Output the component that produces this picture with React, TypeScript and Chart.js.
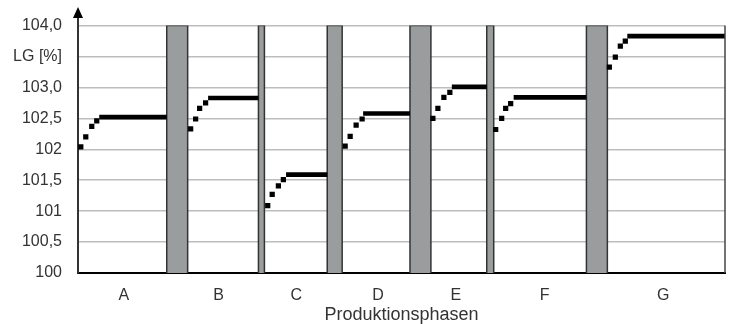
import React, { useEffect, useRef } from "react";
import { Chart, registerables } from "chart.js";

Chart.register(...registerables);

// Phase names and position of their labels on the time axis
const phases = ["A", "B", "C", "D", "E", "F", "G"];
const phaseLabelX = [46, 141, 219, 301, 379, 468, 587];

// Interruptions between phases (time span)
const breakStart = [89, 181, 250, 333, 410, 510];
const breakEnd = [110, 187, 265, 354, 417, 531];

// Learning ramp at the start of each phase
const rampX = [
  [2.8, 7.8, 13.8, 18.8],
  [113, 118, 122, 128],
  [190.3, 194.8, 201, 206],
  [268, 273, 279, 285],
  [356, 361, 367, 373],
  [419, 425, 429, 434],
  [533, 539, 544, 549],
];
const rampY = [
  [102.04, 102.2, 102.37, 102.46],
  [102.33, 102.49, 102.66, 102.75],
  [101.09, 101.27, 101.41, 101.51],
  [102.05, 102.21, 102.39, 102.49],
  [102.5, 102.66, 102.84, 102.92],
  [102.32, 102.5, 102.66, 102.74],
  [103.33, 103.49, 103.67, 103.75],
];

// Plateau after the ramp
const plateauStart = [21.3, 130.5, 208.7, 286, 375, 437, 551];
const plateauEnd = [89, 181, 250, 333, 410, 510, 649];
const plateauY = [102.52, 102.83, 101.59, 102.58, 103.01, 102.84, 103.83];

// Y axis
const yTickLabels = ["100", "100,5", "101", "101,5", "102", "102,5", "103,0", "LG [%]", "104,0"];
const xTitle = "Produktionsphasen";

const FONT = "'Liberation Sans', Arial, sans-serif";

const decorPlugin = {
  id: "decor",
  afterDraw(chart: any) {
    const { ctx, chartArea } = chart;
    const x0 = chart.scales.x.getPixelForValue(0);
    ctx.save();
    // y-axis extension + arrow
    ctx.strokeStyle = "#333";
    ctx.lineWidth = 2;
    ctx.beginPath();
    ctx.moveTo(x0, chartArea.top);
    ctx.lineTo(x0, 16);
    ctx.stroke();
    ctx.fillStyle = "#000";
    ctx.beginPath();
    ctx.moveTo(x0, 7);
    ctx.lineTo(x0 - 5, 18);
    ctx.lineTo(x0 + 5, 18);
    ctx.closePath();
    ctx.fill();
    // right border
    ctx.strokeStyle = "#444";
    ctx.lineWidth = 1.5;
    ctx.beginPath();
    ctx.moveTo(chartArea.right, chartArea.top);
    ctx.lineTo(chartArea.right, chartArea.bottom);
    ctx.stroke();
    ctx.restore();
  },
};

export default function App() {
  const ref = useRef<HTMLCanvasElement | null>(null);

  useEffect(() => {
    document.body.style.margin = "0";
    const canvas = ref.current;
    if (!canvas) return;

    const datasets: any[] = [];
    phases.forEach((_, i) => {
      datasets.push({
        data: rampX[i].map((x, k) => ({ x, y: rampY[i][k] })),
        showLine: false,
        pointStyle: "rect",
        pointRadius: 3.7,
        pointBorderWidth: 0,
        pointBackgroundColor: "#000",
        borderColor: "#000",
      });
      datasets.push({
        data: [
          { x: plateauStart[i], y: plateauY[i] },
          { x: plateauEnd[i], y: plateauY[i] },
        ],
        borderColor: "#000",
        borderWidth: 4.6,
        borderCapStyle: "butt",
        pointRadius: 0,
      });
    });
    breakStart.forEach((s, i) => {
      const e = breakEnd[i];
      datasets.push({
        data: [
          { x: s, y: 100 },
          { x: s, y: 104 },
          { x: e, y: 104 },
          { x: e, y: 100 },
        ],
        fill: "start",
        backgroundColor: "#9a9d9d",
        borderColor: "#333",
        borderWidth: 1.5,
        pointRadius: 0,
        tension: 0,
      });
    });

    const chart = new Chart(canvas, {
      type: "line",
      data: { datasets },
      plugins: [decorPlugin],
      options: {
        animation: false,
        responsive: false,
        events: [],
        layout: { padding: { top: 13, right: 1, left: 0, bottom: 0 } },
        plugins: { legend: { display: false }, tooltip: { enabled: false } },
        scales: {
          x: {
            type: "linear",
            min: 0,
            max: 649,
            grid: { display: false, drawTicks: false },
            border: { color: "#000", width: 2 },
            afterBuildTicks: (scale: any) => {
              scale.ticks = phaseLabelX.map((v) => ({ value: v }));
            },
            afterFit: (scale: any) => {
              scale.height = 51;
            },
            ticks: {
              autoSkip: false,
              maxRotation: 0,
              padding: 13,
              color: "#333",
              font: { family: FONT, size: 16 },
              callback: (_v: any, i: number) => phases[i],
            },
            title: {
              display: true,
              text: xTitle,
              color: "#333",
              padding: { top: 0, bottom: -2 },
              font: { family: FONT, size: 18 },
            },
          },
          y: {
            type: "linear",
            min: 100,
            max: 104,
            grid: { color: "#bdbdbd", lineWidth: 1.5, drawTicks: false },
            border: { color: "#333", width: 2 },
            afterFit: (scale: any) => {
              scale.width = 78;
            },
            ticks: {
              stepSize: 0.5,
              padding: 16,
              color: "#333",
              font: { family: FONT, size: 16 },
              callback: (_v: any, i: number) => yTickLabels[i],
            },
          },
        },
      },
    });
    return () => chart.destroy();
  }, []);

  return (
    <div style={{ width: 729, height: 324 }}>
      <canvas ref={ref} width={729} height={324} />
    </div>
  );
}
